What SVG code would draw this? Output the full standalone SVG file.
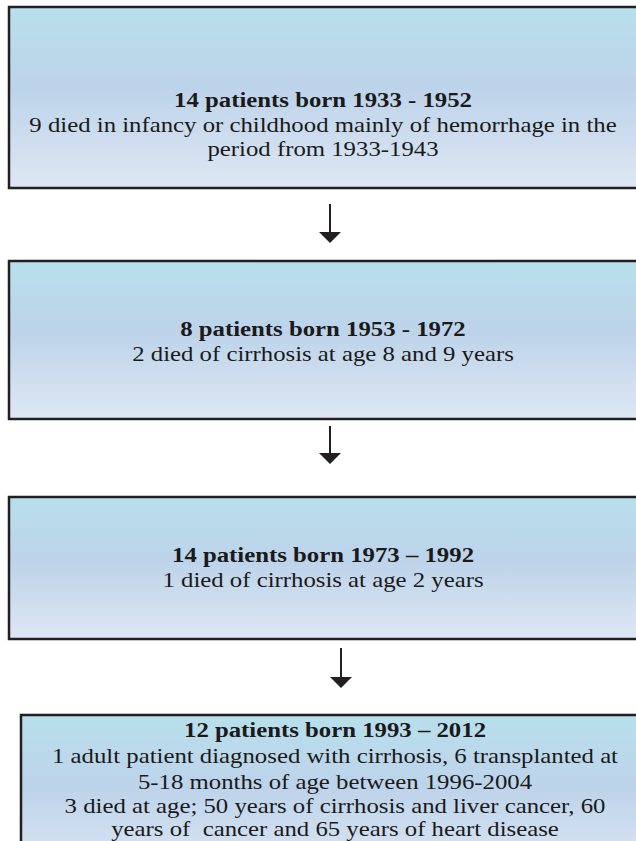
<svg xmlns="http://www.w3.org/2000/svg" width="636" height="841" viewBox="0 0 636 841">
<defs>
<linearGradient id="bg" x1="0" y1="0" x2="0" y2="1">
<stop offset="0" stop-color="#b8dfeb"/>
<stop offset="0.45" stop-color="#bdd3ea"/>
<stop offset="1" stop-color="#dee7f3"/>
</linearGradient>
<style>
.box{fill:url(#bg);stroke:#231f20;stroke-width:2.5}
.t{font-family:"Liberation Serif","Times New Roman",serif;font-size:21px;fill:#1a1a1a;text-anchor:middle}
.b{font-weight:bold}
.c{stroke:#231f20;stroke-width:2;fill:none}
.h{fill:#231f20}
</style>
</defs>
<rect width="636" height="841" fill="#fff"/>
<g id="n1">
<rect class="box" x="9" y="7" width="640" height="181"/>
<g transform="translate(323,0) scale(1.18,1)">
<text class="t b" x="0" y="107">14 patients born 1933 - 1952</text>
<text class="t" x="0" y="132">9 died in infancy or childhood mainly of hemorrhage in the</text>
<text class="t" x="0" y="156">period from 1933-1943</text>
</g>
</g>
<g id="n2">
<rect class="box" x="9" y="261" width="640" height="158"/>
<g transform="translate(323,0) scale(1.18,1)">
<text class="t b" x="0" y="336">8 patients born 1953 - 1972</text>
<text class="t" x="0" y="361">2 died of cirrhosis at age 8 and 9 years</text>
</g>
</g>
<g id="n3">
<rect class="box" x="9" y="497" width="640" height="142"/>
<g transform="translate(323,0) scale(1.18,1)">
<text class="t b" x="0" y="562">14 patients born 1973 – 1992</text>
<text class="t" x="0" y="587">1 died of cirrhosis at age 2 years</text>
</g>
</g>
<g id="n4">
<rect class="box" x="21" y="715" width="640" height="160"/>
<g transform="translate(335,0) scale(1.18,1)">
<text class="t b" x="0" y="737">12 patients born 1993 – 2012</text>
<text class="t" x="0" y="763">1 adult patient diagnosed with cirrhosis, 6 transplanted at</text>
<text class="t" x="0" y="789">5-18 months of age between 1996-2004</text>
<text class="t" x="0" y="813">3 died at age; 50 years of cirrhosis and liver cancer, 60</text>
<text class="t" x="0" y="836" xml:space="preserve">years of  cancer and 65 years of heart disease</text>
</g>
</g>
<g id="connectors">
<line class="c" x1="330" y1="204" x2="330" y2="233"/>
<polygon class="h" points="319,232 341,232 330,243"/>
<line class="c" x1="330" y1="426" x2="330" y2="454"/>
<polygon class="h" points="319,453 341,453 330,464"/>
<line class="c" x1="341" y1="648" x2="341" y2="678"/>
<polygon class="h" points="330,677 352,677 341,688"/>
</g>
</svg>
